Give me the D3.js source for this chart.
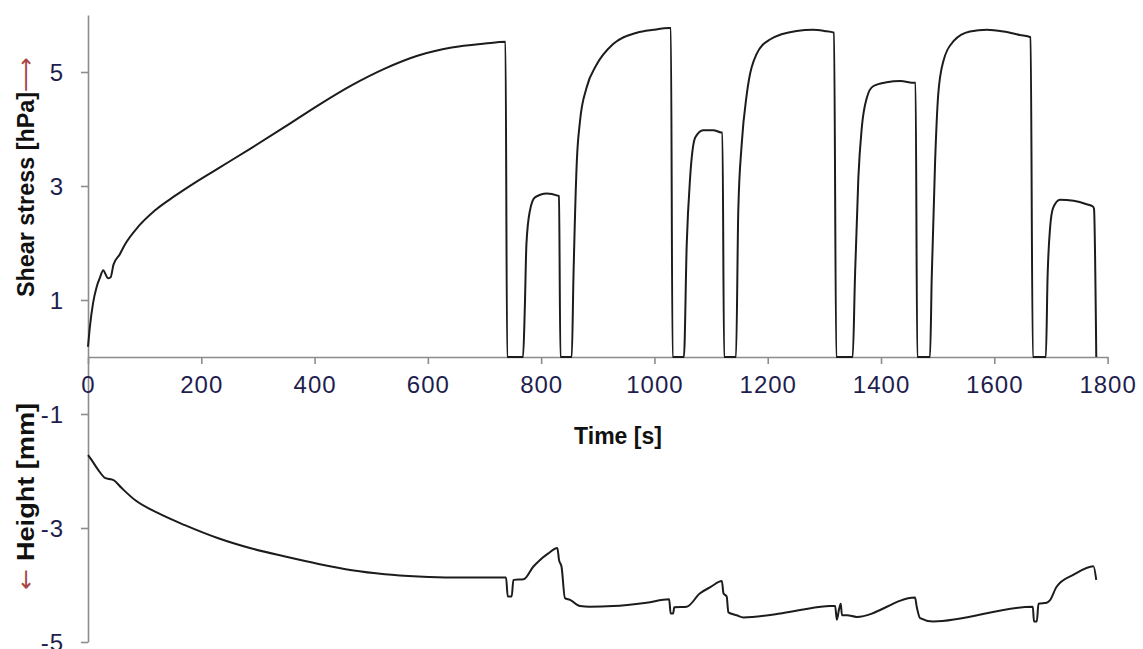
<!DOCTYPE html>
<html>
<head>
<meta charset="utf-8">
<script src="https://cdn.jsdelivr.net/npm/d3@7"></script>
<style>
  html, body { margin: 0; padding: 0; background: #ffffff; }
  svg { display: block; }
</style>
</head>
<body>
<svg id="chart" width="1143" height="649"></svg>
<script>
// ---- Data ----
const xTicks = [0, 200, 400, 600, 800, 1000, 1200, 1400, 1600, 1800];
const yTicks = [5, 3, 1, -1, -3, -5];

// Shear stress [hPa] vs time [s]
const stressTime = [
  0, 3, 9, 15, 21, 27, 31, 35, 40, 45, 56, 65, 89, 118, 154, 189, 230, 289, 348, 407, 466, 524, 583, 642, 701, 737,
  740, 768,
  771, 774, 780, 789, 810, 829, 831.5, 834,
  854, 857, 863, 868.6, 880, 898, 927, 969, 998, 1027, 1029, 1032,
  1052, 1057, 1063, 1072, 1086, 1104, 1118, 1120, 1123,
  1144, 1148, 1154, 1163, 1180, 1204, 1251, 1280, 1300, 1317, 1321,
  1350, 1354, 1360, 1366, 1375, 1386, 1410, 1434, 1459, 1461, 1464,
  1486.5, 1489.5, 1495.5, 1501, 1510, 1528, 1557, 1587, 1616, 1645, 1664, 1668,
  1691, 1694, 1698.5, 1704, 1716, 1740, 1763, 1774, 1776, 1780
];
const stressValue = [
  0.18, 0.5, 0.95, 1.22, 1.39, 1.52, 1.45, 1.38, 1.4, 1.62, 1.8, 1.97, 2.29, 2.57, 2.83, 3.06, 3.31, 3.67, 4.04, 4.42, 4.77, 5.06, 5.29, 5.43, 5.5, 5.53,
  0, 0,
  0.8, 1.98, 2.56, 2.8, 2.87, 2.83, 2.82, 0,
  0, 1.39, 3.44, 4.14, 4.72, 5.13, 5.49, 5.69, 5.74, 5.77, 5.77, 0,
  0, 1.98, 3.15, 3.85, 3.98, 3.98, 3.94, 3.94, 0,
  0, 2.56, 3.73, 4.61, 5.31, 5.57, 5.72, 5.74, 5.72, 5.69, 0,
  0, 1.39, 3.15, 4.02, 4.55, 4.75, 4.82, 4.84, 4.81, 4.81, 0,
  0, 1.39, 3.44, 4.61, 5.19, 5.54, 5.71, 5.74, 5.71, 5.65, 5.61, 0,
  0, 1.39, 2.27, 2.62, 2.76, 2.74, 2.68, 2.64, 2.6, 0
];

// Height [mm] vs time [s]
const heightTime = [
  0, 6.5, 18, 30, 38, 45, 59.5, 83, 124, 171, 230, 289, 348, 407, 466, 524, 583, 642, 738,
  741, 748, 751, 769, 786, 798, 812, 828.6, 831.5, 836, 842, 851, 868.6, 886, 927, 986, 1026,
  1028.6, 1033, 1035, 1057, 1080, 1100, 1119, 1122, 1127.5, 1130.5, 1145, 1157, 1222, 1257, 1310, 1319,
  1322, 1326, 1329, 1331, 1340, 1357, 1460, 1463, 1469, 1492, 1668,
  1670, 1675, 1678, 1692.5, 1698, 1710, 1740, 1775, 1780
];
const heightValue = [
  -1.72, -1.81, -1.98, -2.12, -2.14, -2.16, -2.3, -2.51, -2.74, -2.95, -3.18, -3.36, -3.5, -3.63, -3.74, -3.81, -3.85, -3.87, -3.87,
  -4.2, -4.2, -3.91, -3.9, -3.68, -3.56, -3.45, -3.35, -3.56, -3.68, -4.23, -4.26, -4.37, -4.38, -4.37, -4.31, -4.25,
  -4.5, -4.5, -4.39, -4.38, -4.15, -4.03, -3.93, -4.15, -4.2, -4.48, -4.53, -4.57, -4.5, -4.44, -4.37, -4.37,
  -4.61, -4.42, -4.33, -4.53, -4.53, -4.56, -4.22, -4.38, -4.58, -4.64, -4.38,
  -4.64, -4.64, -4.33, -4.31, -4.27, -4.03, -3.82, -3.67, -3.91
];

// ---- Drawing ----
const svg = d3.select("#chart");
const x = d3.scaleLinear().domain([0, 1800]).range([88, 1107.6]);
const y = d3.scaleLinear().domain([-5, 6]).range([642, 15]);

const axisColor = "#8c8c8c";
const tickText = "#1e1e4e";

// Y axis
const yAxis = svg.append("g")
  .attr("transform", `translate(${x(0)},0)`)
  .call(d3.axisLeft(y).tickValues(yTicks).tickSize(7).tickSizeOuter(0).tickPadding(17)
    .tickFormat(d => String(d)));
// X axis at zero
const xAxis = svg.append("g")
  .attr("transform", `translate(0,${y(0)})`)
  .call(d3.axisBottom(x).tickValues(xTicks).tickSize(7).tickSizeOuter(0).tickPadding(12)
    .tickFormat(d => String(d)));

[yAxis, xAxis].forEach(g => {
  g.select(".domain").attr("stroke", axisColor).attr("stroke-width", 1.6);
  g.selectAll(".tick line").attr("stroke", axisColor).attr("stroke-width", 1.6);
  g.selectAll(".tick text")
    .attr("fill", tickText)
    .style("font-family", "'Liberation Sans', Arial, sans-serif")
    .style("font-size", "24px")
    .style("letter-spacing", "1px");
});
yAxis.selectAll(".tick text").attr("dy", "0.35em");

// Lines
const line = d3.line().x(d => x(d[0])).y(d => y(d[1])).curve(d3.curveMonotoneX);
const stressData = stressTime.map((t, i) => [t, stressValue[i]]);
const heightData = heightTime.map((t, i) => [t, heightValue[i]]);

svg.append("path").datum(stressData)
  .attr("d", line).attr("fill", "none").attr("stroke", "#1c1c1c").attr("stroke-width", 2).attr("stroke-linejoin", "round");
svg.append("path").datum(heightData)
  .attr("d", line).attr("fill", "none").attr("stroke", "#1c1c1c").attr("stroke-width", 2).attr("stroke-linejoin", "round");

// Axis titles
const titleFont = "'Liberation Sans', Arial, sans-serif";
svg.append("text")
  .attr("x", 618).attr("y", 444)
  .attr("text-anchor", "middle")
  .style("font-family", titleFont).style("font-size", "23px").style("font-weight", "bold")
  .attr("fill", "#111")
  .text("Time [s]");

// Shear stress label (rotated)
svg.append("text")
  .attr("transform", "translate(34,297) rotate(-90)")
  .attr("text-anchor", "start")
  .attr("textLength", 205).attr("lengthAdjust", "spacingAndGlyphs")
  .style("font-family", titleFont).style("font-size", "23px").style("font-weight", "bold")
  .attr("fill", "#111")
  .text("Shear stress  [hPa]");
svg.append("text")
  .attr("transform", "translate(33,92) rotate(-90)")
  .attr("text-anchor", "start")
  .attr("textLength", 35).attr("lengthAdjust", "spacingAndGlyphs")
  .style("font-family", "'DejaVu Sans', sans-serif").style("font-size", "22px")
  .attr("fill", "#a8453f")
  .text("⟶");

// Height label (rotated)
svg.append("text")
  .attr("transform", "translate(33,590) rotate(-90)")
  .attr("text-anchor", "start")
  .attr("textLength", 21).attr("lengthAdjust", "spacingAndGlyphs")
  .style("font-family", "'DejaVu Sans', sans-serif").style("font-size", "22px")
  .attr("fill", "#a8453f")
  .text("←");
svg.append("text")
  .attr("transform", "translate(34,561) rotate(-90)")
  .attr("text-anchor", "start")
  .attr("textLength", 158).attr("lengthAdjust", "spacingAndGlyphs")
  .style("font-family", titleFont).style("font-size", "23px").style("font-weight", "bold")
  .attr("fill", "#111")
  .text("Height [mm]");
</script>
</body>
</html>
